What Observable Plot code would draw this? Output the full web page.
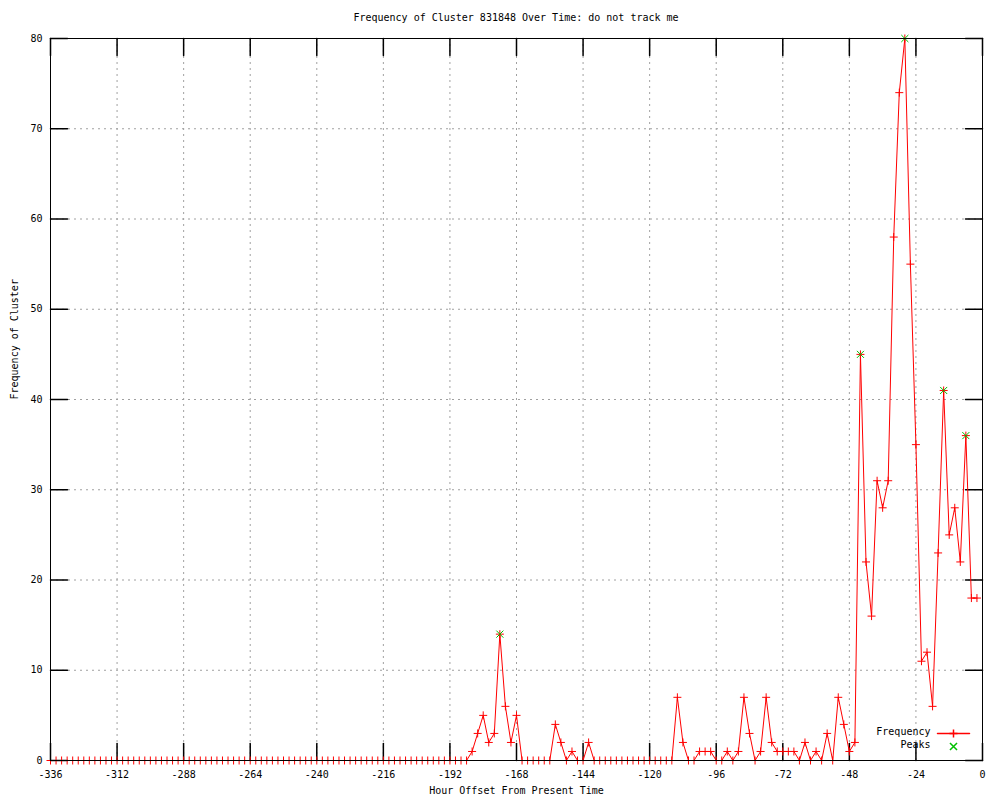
<!DOCTYPE html>
<html><head><meta charset="utf-8">
<script src="https://cdn.jsdelivr.net/npm/d3@7"></script>
<script src="https://cdn.jsdelivr.net/npm/@observablehq/plot@0.6"></script>
<style>
html,body{margin:0;padding:0;background:#fff;overflow:hidden;}
#title{position:absolute;top:0;left:0;width:932px;height:36px;font-family:"DejaVu Sans Mono",monospace;font-size:10px;line-height:36px;text-align:center;padding-left:50px;padding-right:18px;color:#000;white-space:pre;z-index:2;}
svg{display:block;}
</style></head><body>
<div id="title">Frequency of Cluster 831848 Over Time: do not track me</div>
<div id="chart"></div>
<script>
const hours = [
  -336,-334,-332,-330,-328,-326,-324,-322,-320,-318,-316,-314,
  -312,-310,-308,-306,-304,-302,-300,-298,-296,-294,-292,-290,
  -288,-286,-284,-282,-280,-278,-276,-274,-272,-270,-268,-266,
  -264,-262,-260,-258,-256,-254,-252,-250,-248,-246,-244,-242,
  -240,-238,-236,-234,-232,-230,-228,-226,-224,-222,-220,-218,
  -216,-214,-212,-210,-208,-206,-204,-202,-200,-198,-196,-194,
  -192,-190,-188,-186,-184,-182,-180,-178,-176,-174,-172,-170,
  -168,-166,-164,-162,-160,-158,-156,-154,-152,-150,-148,-146,
  -144,-142,-140,-138,-136,-134,-132,-130,-128,-126,-124,-122,
  -120,-118,-116,-114,-112,-110,-108,-106,-104,-102,-100,-98,
  -96,-94,-92,-90,-88,-86,-84,-82,-80,-78,-76,-74,
  -72,-70,-68,-66,-64,-62,-60,-58,-56,-54,-52,-50,
  -48,-46,-44,-42,-40,-38,-36,-34,-32,-30,-28,-26,
  -24,-22,-20,-18,-16,-14,-12,-10,-8,-6,-4,-2
];
const frequency = [
  0,0,0,0,0,0,0,0,0,0,0,0,
  0,0,0,0,0,0,0,0,0,0,0,0,
  0,0,0,0,0,0,0,0,0,0,0,0,
  0,0,0,0,0,0,0,0,0,0,0,0,
  0,0,0,0,0,0,0,0,0,0,0,0,
  0,0,0,0,0,0,0,0,0,0,0,0,
  0,0,0,0,1,3,5,2,3,14,6,2,
  5,0,0,0,0,0,0,4,2,0,1,0,
  0,2,0,0,0,0,0,0,0,0,0,0,
  0,0,0,0,0,7,2,0,0,1,1,1,
  0,0,1,0,1,7,3,0,1,7,2,1,
  1,1,1,0,2,0,1,0,3,0,7,4,
  1,2,45,22,16,31,28,31,58,74,80,55,
  35,11,12,6,23,41,25,28,22,36,18,18
];
const peakHours = [-174, -44, -28, -14, -6];
const peakValues = [14, 45, 80, 41, 36];
const xTicks = [-336,-312,-288,-264,-240,-216,-192,-168,-144,-120,-96,-72,-48,-24,0];
const yTicks = [0,10,20,30,40,50,60,70,80];
const xLabel = "Hour Offset From Present Time";
const yLabel = "Frequency of Cluster";
const seriesNames = ["Frequency", "Peaks"];

const freqData = hours.map((h, i) => ({h, v: frequency[i]}));
const peakData = peakHours.map((h, i) => ({h, v: peakValues[i]}));
const tickShape = {draw(ctx, l) { ctx.moveTo(0, 0); ctx.lineTo(0, -l); }};
const TICK = 17;
const GRID = {stroke: "#a0a0a0", strokeOpacity: 1, strokeWidth: 1, strokeDasharray: "2,4"};
const RED = "#ff0000", GREEN = "#00c000";

const chart = Plot.plot({
  width: 1000, height: 800,
  marginTop: 38, marginBottom: 40, marginLeft: 50, marginRight: 18,
  x: {domain: [-336, 0], axis: null},
  y: {domain: [0, 80], axis: null},
  style: {fontFamily: "'DejaVu Sans Mono', monospace", fontSize: "10px", background: "white", color: "black"},
  marks: [
    Plot.gridX(xTicks.slice(1, -1), GRID),
    Plot.gridY(yTicks.slice(1, -1), GRID),
    Plot.vector(xTicks, {x: d => d, frameAnchor: "bottom", rotate: 0, length: TICK, anchor: "start", shape: tickShape, stroke: "black"}),
    Plot.vector(xTicks, {x: d => d, frameAnchor: "top", rotate: 180, length: TICK, anchor: "start", shape: tickShape, stroke: "black"}),
    Plot.vector(yTicks, {y: d => d, frameAnchor: "left", rotate: 90, length: TICK, anchor: "start", shape: tickShape, stroke: "black"}),
    Plot.vector(yTicks, {y: d => d, frameAnchor: "right", rotate: 270, length: TICK, anchor: "start", shape: tickShape, stroke: "black"}),
    Plot.line(freqData, {x: "h", y: "v", stroke: RED, strokeWidth: 1}),
    Plot.dot(freqData, {x: "h", y: "v", symbol: "plus", r: 2.7, stroke: RED, strokeWidth: 1}),
    Plot.dot(peakData, {x: "h", y: "v", symbol: "times", r: 3.3, stroke: GREEN, strokeWidth: 1}),
    Plot.frame({stroke: "black"}),
    Plot.text(xTicks, {x: d => d, frameAnchor: "bottom", dy: 14, text: d => String(d), lineAnchor: "middle"}),
    Plot.text(yTicks, {y: d => d, frameAnchor: "left", dx: -8, textAnchor: "end", text: d => String(d)}),
    Plot.text([xLabel], {frameAnchor: "bottom", dy: 33, text: d => d}),
    Plot.text([yLabel], {frameAnchor: "left", dx: -36, rotate: -90, text: d => d}),
    Plot.text([seriesNames[0]], {frameAnchor: "bottom-right", dx: -52, dy: -26, textAnchor: "end", text: d => d}),
    Plot.text([seriesNames[1]], {frameAnchor: "bottom-right", dx: -52, dy: -13, textAnchor: "end", text: d => d}),
    Plot.vector([seriesNames[0]], {frameAnchor: "bottom-right", dx: -45, dy: -27, rotate: 90, length: 32, anchor: "start", shape: tickShape, stroke: RED}),
    Plot.dot([seriesNames[0]], {x: null, y: null, frameAnchor: "bottom-right", dx: -29, dy: -27, symbol: "plus", r: 2.7, stroke: RED}),
    Plot.dot([seriesNames[1]], {x: null, y: null, frameAnchor: "bottom-right", dx: -29, dy: -14, symbol: "times", r: 3.3, stroke: GREEN})
  ]
});
document.getElementById("chart").appendChild(chart);
</script>
</body></html>
